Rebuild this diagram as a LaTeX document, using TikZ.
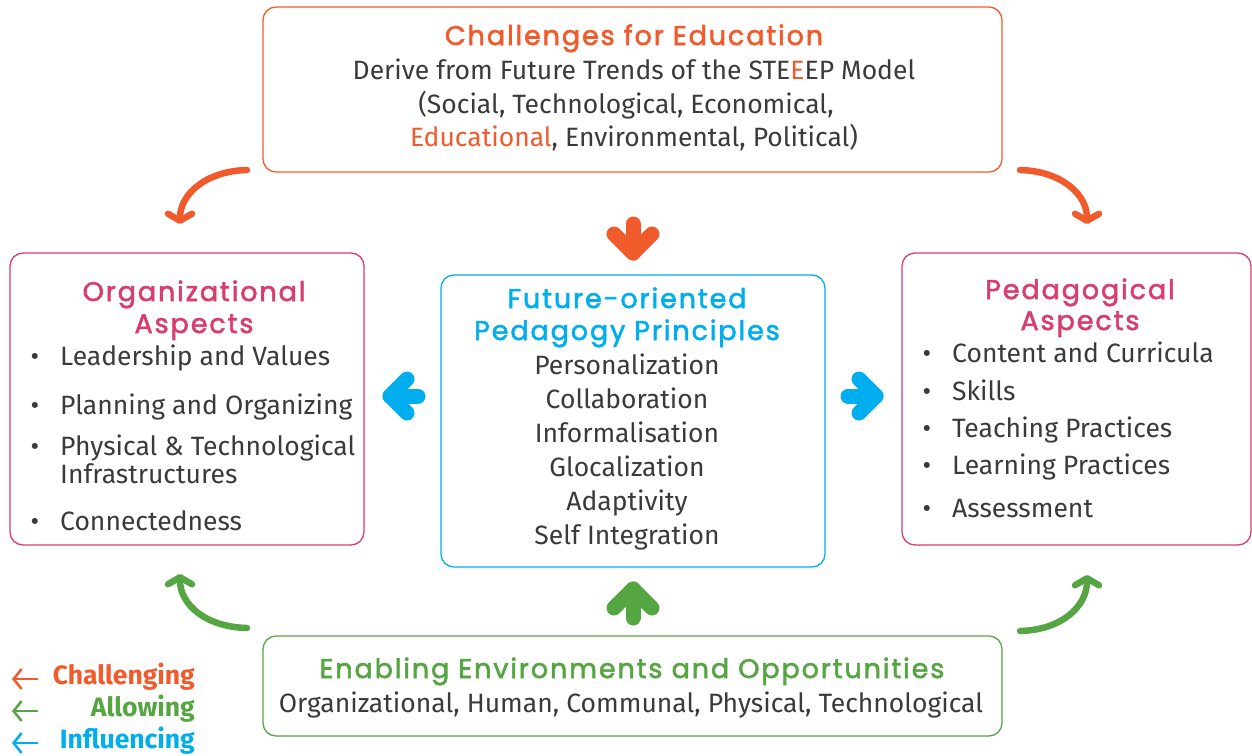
\documentclass[tikz,border=0pt]{standalone}
\usepackage{fontspec}
\setmainfont{Fira Sans}
\newfontfamily\headfont{Poppins}[LetterSpace=7, FakeBold=2]
\usetikzlibrary{arrows.meta,positioning}
\definecolor{chalorange}{HTML}{F15A2B}
\definecolor{aspectpink}{HTML}{D93C6E}
\definecolor{inflcyan}{HTML}{00AEEF}
\definecolor{allowgreen}{HTML}{56A543}
\definecolor{bodygray}{HTML}{3A3A3A}
\tikzset{
  box/.style={draw=#1, line width=1.3pt, rounded corners=13pt, inner sep=0pt},
  head/.style={text=#1, inner sep=0pt, font=\headfont\fontsize{27}{30}\selectfont},
  body/.style={text=bodygray, inner sep=0pt, font=\fontsize{26.5}{30}\selectfont},
  legend/.style={text=#1, inner sep=0pt, anchor=base east, font=\bfseries\fontsize{26.5}{28}\selectfont},
  curve/.style={draw=#1, line width=6.5pt, line cap=round, -{Straight Barb[round, length=7pt, width=24pt]}},
  fat/.style={draw=#1, line width=15pt, line cap=round, line join=round},
  key/.style={draw=#1, line width=2.5pt, -{Straight Barb[length=8pt, width=20pt]}}
}
\begin{document}
\begin{tikzpicture}[x=1pt, y=-1pt]
\useasboundingbox (0,0) rectangle (1252,755);

% boxes
\node[box=chalorange, minimum width=739pt, minimum height=165pt] (challenges) at (632.5,89.5) {};
\node[box=aspectpink, minimum width=354pt, minimum height=292pt] (organizational) at (187,399) {};
\node[box=inflcyan, minimum width=384pt, minimum height=292pt] (principles) at (633,421) {};
\node[box=aspectpink, minimum width=349pt, minimum height=292pt] (pedagogical) at (1076.5,399) {};
\node[box=allowgreen, minimum width=739pt, minimum height=100pt] (enabling) at (632.5,686) {};

% challenges
\node[head=chalorange, anchor=base] (chaltitle) at (634,45) {Challenges for Education};
\node[body, anchor=base] (chal1) at (634,79) {Derive from Future Trends of the STE\textcolor{chalorange}{E}EP Model};
\node[body, anchor=base] (chal2) at (626,113) {(Social, Technological, Economical,};
\node[body, anchor=base] (chal3) at (634,146) {\textcolor{chalorange}{Educational}, Environmental, Political)};

% organizational aspects
\node[head=aspectpink, anchor=base] (orgtitle1) at (194,301) {Organizational};
\node[head=aspectpink, anchor=base] (orgtitle2) at (194,333) {Aspects};
\foreach \y/\txt [count=\i] in {365/Leadership and Values, 414/Planning and Organizing, 455/Physical \& Technological, 530/Connectedness} {
  \node[body, anchor=base] (orgdot\i) at (35,\y) {\textbullet};
  \node[body, anchor=base west] (orgitem\i) at (60,\y) {\txt};
}
\node[body, anchor=base west] (orgitem5) at (60,483) {Infrastructures};

% principles
\node[head=inflcyan, anchor=base] (printitle1) at (627,308) {Future-oriented};
\node[head=inflcyan, anchor=base] (printitle2) at (627,340) {Pedagogy Principles};
\foreach \y/\txt [count=\i] in {374/Personalization, 408/Collaboration, 442/Informalisation, 476/Glocalization, 510/Adaptivity, 544/Self Integration} {
  \node[body, anchor=base] (prinitem\i) at (627,\y) {\txt};
}

% pedagogical aspects
\node[head=aspectpink, anchor=base] (pedtitle1) at (1080,299) {Pedagogical};
\node[head=aspectpink, anchor=base] (pedtitle2) at (1080,330) {Aspects};
\foreach \y/\txt [count=\i] in {362/Content and Curricula, 400/Skills, 437/Teaching Practices, 474/Learning Practices, 517/Assessment} {
  \node[body, anchor=base] (peddot\i) at (927,\y) {\textbullet};
  \node[body, anchor=base west] (peditem\i) at (952,\y) {\txt};
}

% enabling
\node[head=allowgreen, anchor=base] (enabtitle) at (632,678) {Enabling Environments and Opportunities};
\node[body, anchor=base] (enab1) at (631,712) {Organizational, Human, Communal, Physical, Technological};

% curved arrows
\coordinate (tlstart) at (247,170);
\coordinate (tlend) at (180,224);
\coordinate (trstart) at (1020,170);
\coordinate (trend) at (1087,224);
\coordinate (blstart) at (247,628);
\coordinate (blend) at (180,574);
\coordinate (brstart) at (1020,631);
\coordinate (brend) at (1087,575);
\draw[curve=chalorange] (tlstart) .. controls (205,171) and (180,195) .. (tlend);
\draw[curve=chalorange] (trstart) .. controls (1062,171) and (1087,195) .. (trend);
\draw[curve=allowgreen] (blstart) .. controls (205,627) and (180,604) .. (blend);
\draw[curve=allowgreen] (brstart) .. controls (1062,630) and (1087,606) .. (brend);

% fat arrows
\coordinate (downtip) at (633,253);
\coordinate (uptip) at (633,589);
\coordinate (lefttip) at (390,396);
\coordinate (righttip) at (876,396);
\draw[fat=chalorange] (downtip) -- ++(0,-29);
\draw[fat=chalorange] (downtip) ++(-19,-19) -- (downtip) -- ++(19,-19);
\draw[fat=allowgreen] (uptip) -- ++(0,29);
\draw[fat=allowgreen] (uptip) ++(-19,19) -- (uptip) -- ++(19,19);
\draw[fat=inflcyan] (lefttip) -- ++(28,0);
\draw[fat=inflcyan] (lefttip) ++(17,-17) -- (lefttip) -- ++(17,17);
\draw[fat=inflcyan] (righttip) -- ++(-28,0);
\draw[fat=inflcyan] (righttip) ++(-17,-17) -- (righttip) -- ++(-17,17);

% legend
\coordinate (keya) at (38,679);
\coordinate (keyb) at (38,711);
\coordinate (keyc) at (38,743);
\draw[key=chalorange] (keya) -- ++(-26,0);
\draw[key=allowgreen] (keyb) -- ++(-26,0);
\draw[key=inflcyan] (keyc) -- ++(-26,0);
\node[legend=chalorange] (challenging) at (195,684) {Challenging};
\node[legend=allowgreen] (allowing) at (195,716) {Allowing};
\node[legend=inflcyan] (influencing) at (195,748) {Influencing};
\end{tikzpicture}
\end{document}
